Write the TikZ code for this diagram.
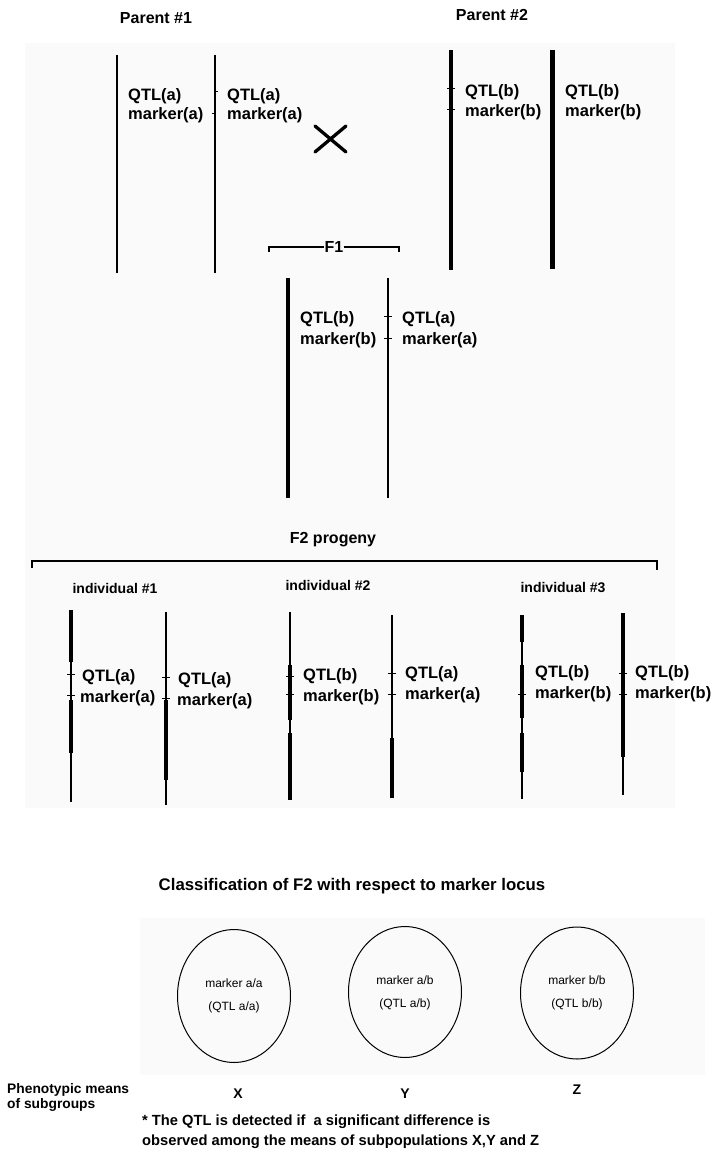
\documentclass[tikz,border=0pt]{standalone}
\usepackage{fontspec}
\setmainfont{Liberation Sans}
\begin{document}
\begin{tikzpicture}[x=1pt,y=-1pt,
  lab/.style={font=\bfseries\fontsize{16.5}{16}\selectfont, anchor=west, inner sep=0pt},
  head/.style={font=\bfseries\fontsize{16}{16}\selectfont, inner sep=0pt},
  ind/.style={font=\bfseries\fontsize{14}{14}\selectfont, inner sep=0pt},
  ctext/.style={font=\fontsize{12}{12}\selectfont, inner sep=0pt},
  xyz/.style={font=\bfseries\fontsize{14}{14}\selectfont, inner sep=0pt},
  note/.style={font=\bfseries\fontsize{14.7}{20}\selectfont, inner sep=0pt, anchor=north west, align=left},
  c1/.style={line width=1.4pt},
  c2/.style={line width=2.6pt},
  c3/.style={line width=4.3pt},
  tk/.style={line width=1pt},
  brk/.style={line width=1.2pt},
  circ/.style={draw, ellipse, line width=1pt, minimum width=113pt, minimum height=133pt, inner sep=0pt}]
\usetikzlibrary{shapes.geometric}
% background
\fill[white] (0,0) rectangle (712,1157);
\useasboundingbox (0,0) rectangle (712,1157);
\fill[black!2] (25,43) rectangle (675,808);
\fill[black!2] (140,918) rectangle (705,1075);

% headers
\node[head] (p1) at (156,18) {Parent \#1};
\node[head] (p2) at (492,15) {Parent \#2};

% Parent 1 chromosomes
\draw[c1] (117,55) -- (117,273);
\draw[c1] (215,55) -- (215,100);
\draw[c2] (215,100) -- (215,273);
\draw[tk] (216,91) -- (218,91);
\draw[tk] (212,113) -- (214,113);
\node[lab] (p1q1) at (128,96) {QTL(a)};
\node[lab] (p1m1) at (128,115) {marker(a)};
\node[lab] (p1q2) at (227,96) {QTL(a)};
\node[lab] (p1m2) at (227,115) {marker(a)};

% cross
\draw[line width=3.3pt, line cap=round] (315,126) -- (346,152) (315,152) -- (346,126);

% Parent 2 chromosomes
\draw[c3] (451,50) -- (451,270);
\draw[tk] (447,88) -- (455,88);
\draw[tk] (447,109) -- (455,109);
\draw[line width=5pt] (552,50) -- (552,269);
\node[lab] (p2q1) at (465,92) {QTL(b)};
\node[lab] (p2m1) at (465,112) {marker(b)};
\node[lab] (p2q2) at (565,92) {QTL(b)};
\node[lab] (p2m2) at (565,112) {marker(b)};

% F1
\node[head] (f1) at (334,247) {F1};
\draw[brk] (269,252) -- (269,247) -- (f1.west);
\draw[brk] (f1.east) -- (399,247) -- (399,252);
\draw[c3] (288,278) -- (288,498);
\draw[c1] (388,278) -- (388,498);
\draw[tk] (384,316) -- (392,316);
\draw[tk] (384,338) -- (392,338);
\node[lab] (f1q1) at (300,319) {QTL(b)};
\node[lab] (f1m1) at (300,340) {marker(b)};
\node[lab] (f1q2) at (402,319) {QTL(a)};
\node[lab] (f1m2) at (402,340) {marker(a)};

% F2 progeny bracket
\node[head] (f2) at (333,540) {F2 progeny};
\draw[brk] (32,568) -- (32,561) -- (657,561) -- (657,570);

\node[ind] (i1) at (115,588) {individual \#1};
\node[ind] (i2) at (328,585) {individual \#2};
\node[ind] (i3) at (563,587) {individual \#3};

% individual 1
\draw[c3] (71,610) -- (71,662);
\draw[c1] (71,662) -- (71,700);
\draw[c3] (71,700) -- (71,753);
\draw[c1] (71,753) -- (71,802);
\draw[tk] (67,674) -- (75,674);
\draw[tk] (67,695) -- (75,695);
\draw[c1] (166,612) -- (166,640);
\draw[c2] (166,640) -- (166,665);
\draw[c1] (166,665) -- (166,700);
\draw[c3] (166,700) -- (166,780);
\draw[c1] (166,780) -- (166,790);
\draw[c2] (166,790) -- (166,805);
\draw[tk] (162,677) -- (170,677);
\draw[tk] (162,698) -- (170,698);
\node[lab] (i1q1) at (82,677) {QTL(a)};
\node[lab] (i1m1) at (80,698) {marker(a)};
\node[lab] (i1q2) at (178,680) {QTL(a)};
\node[lab] (i1m2) at (177,701) {marker(a)};

% individual 2
\draw[c1] (290,612) -- (290,640);
\draw[c2] (290,640) -- (290,665);
\draw[c3] (290,665) -- (290,720);
\draw[c1] (290,720) -- (290,733);
\draw[c3] (290,733) -- (290,800);
\draw[tk] (286,676) -- (294,676);
\draw[tk] (286,694) -- (294,694);
\draw[c1] (392,615) -- (392,738);
\draw[c3] (392,738) -- (392,798);
\draw[tk] (388,673) -- (396,673);
\draw[tk] (388,694) -- (396,694);
\node[lab] (i2q1) at (303,676) {QTL(b)};
\node[lab] (i2m1) at (303,697) {marker(b)};
\node[lab] (i2q2) at (405,674) {QTL(a)};
\node[lab] (i2m2) at (405,695) {marker(a)};

% individual 3
\draw[c3] (522,615) -- (522,642);
\draw[c1] (522,642) -- (522,665);
\draw[c3] (522,665) -- (522,718);
\draw[c1] (522,718) -- (522,733);
\draw[c3] (522,733) -- (522,772);
\draw[c1] (522,772) -- (522,799);
\draw[tk] (518,694) -- (526,694);
\draw[c3] (623,613) -- (623,757);
\draw[c1] (623,757) -- (623,795);
\draw[tk] (619,673) -- (627,673);
\draw[tk] (619,694) -- (627,694);
\node[lab] (i3q1) at (535,673) {QTL(b)};
\node[lab] (i3m1) at (535,694) {marker(b)};
\node[lab] (i3q2) at (635,673) {QTL(b)};
\node[lab] (i3m2) at (635,694) {marker(b)};

% classification
\node[font=\bfseries\fontsize{16.8}{16}\selectfont, inner sep=0pt] (cls) at (352,886) {Classification of F2 with respect to marker locus};
\node[circ] (ca) at (234,996) {};
\node[circ, minimum height=131pt] (cb) at (405,992) {};
\node[circ, minimum height=132pt] (cc) at (577,993) {};
\node[ctext] (ta1) at (234,983) {marker a/a};
\node[ctext] (ta2) at (234,1007) {(QTL a/a)};
\node[ctext] (tb1) at (405,980) {marker a/b};
\node[ctext] (tb2) at (405,1004) {(QTL a/b)};
\node[ctext] (tc1) at (577,980) {marker b/b};
\node[ctext] (tc2) at (577,1004) {(QTL b/b)};

\node[font=\bfseries\fontsize{13.8}{15}\selectfont, inner sep=0pt, anchor=north west, align=left] (pm) at (7,1083) {Phenotypic means\\of subgroups};
\node[xyz] (mx) at (238,1094) {X};
\node[xyz] (my) at (405,1094) {Y};
\node[xyz] (mz) at (577,1090) {Z};

\node[note] (fn) at (142,1115) {* The QTL is detected if\ \ a significant difference is\\observed among the means of subpopulations X,Y and Z};
\end{tikzpicture}
\end{document}
